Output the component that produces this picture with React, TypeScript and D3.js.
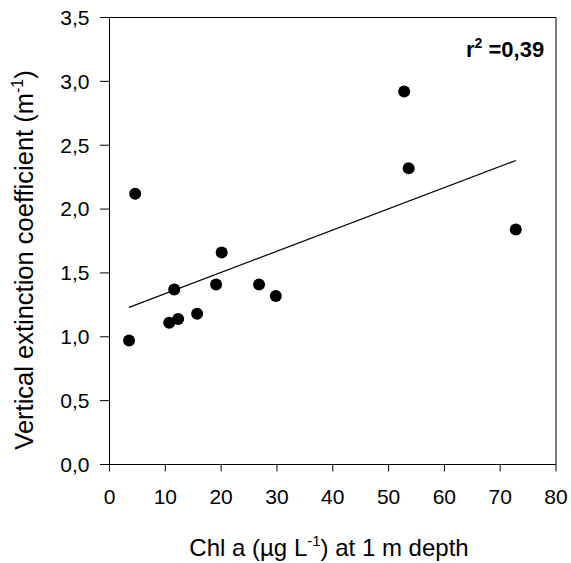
import React from "react";
import * as d3 from "d3";

const chlA = [3.5, 4.6, 10.7, 12.3, 11.6, 15.7, 19.1, 20.1, 26.8, 29.8, 52.8, 53.6, 72.8];
const extinction = [0.97, 2.12, 1.11, 1.14, 1.37, 1.18, 1.41, 1.66, 1.41, 1.32, 2.92, 2.32, 1.84];
const xTicks = [0, 10, 20, 30, 40, 50, 60, 70, 80];
const yTicks = [0, 0.5, 1.0, 1.5, 2.0, 2.5, 3.0, 3.5];
const r2Label = "0,39";

const W = 571, H = 563;
const left = 109.5, right = 556, top = 17.5, bottom = 464.5;

export default function App() {
  const x = d3.scaleLinear().domain([0, 80]).range([left, right]);
  const y = d3.scaleLinear().domain([0, 3.5]).range([bottom, top]);
  const mx = d3.mean(chlA)!;
  const my = d3.mean(extinction)!;
  const sxy = d3.sum(chlA.map((v, i) => (v - mx) * (extinction[i] - my)));
  const sxx = d3.sum(chlA.map((v) => (v - mx) ** 2));
  const slope = sxy / sxx;
  const icpt = my - slope * mx;
  const [x0, x1] = d3.extent(chlA) as [number, number];
  const line = d3.line<number>().x((d) => x(d)).y((d) => y(icpt + slope * d));
  const font = "'Liberation Sans', Arial, sans-serif";
  const fmt = (v: number) => v.toFixed(1).replace(".", ",");
  return (
    <svg width={W} height={H} style={{ position: "absolute", left: 0, top: 0, background: "#fff" }} fontFamily={font}>
      <rect x={0} y={0} width={W} height={H} fill="#fff" />
      <line x1={left} x2={right} y1={top} y2={top} stroke="#000" strokeWidth={1} />
      <line x1={right} x2={right} y1={top} y2={bottom} stroke="#000" strokeWidth={1} />
      <line x1={left} x2={left} y1={top} y2={bottom} stroke="#000" strokeWidth={1} />
      <line x1={left} x2={right} y1={bottom} y2={bottom} stroke="#000" strokeWidth={1} />
      {yTicks.map((t) => (
        <g key={"y" + t}>
          <line x1={left - 9.5} x2={left} y1={y(t)} y2={y(t)} stroke="#000" />
          <text x={89.5} y={y(t)} dy="0.35em" textAnchor="end" fontSize={21} fill="#000">{fmt(t)}</text>
        </g>
      ))}
      {xTicks.map((t) => (
        <g key={"x" + t}>
          <line x1={x(t)} x2={x(t)} y1={bottom} y2={bottom + 7} stroke="#000" />
          <text x={x(t)} y={504} textAnchor="middle" fontSize={21} fill="#000">{t}</text>
        </g>
      ))}
      <path d={line([x0, x1]) || ""} fill="none" stroke="#000" strokeWidth={1.2} />
      {chlA.map((v, i) => (
        <circle key={i} cx={x(v)} cy={y(extinction[i])} r={6} fill="#000" />
      ))}
      <text x={466} y={57} fontSize={22} fontWeight="bold" fill="#000">
        r<tspan dy={-9} fontSize={14}>2</tspan><tspan dy={9}> ={r2Label}</tspan>
      </text>
      <text x={329} y={556} textAnchor="middle" fontSize={24} fill="#000">
        Chl a (µg L<tspan dy={-10} fontSize={15}>-1</tspan><tspan dy={10}>) at 1 m depth</tspan>
      </text>
      <text transform={`translate(33, 260) rotate(-90)`} textAnchor="middle" fontSize={25.5} fill="#000">
        Vertical extinction coefficient (m<tspan dy={-10} fontSize={16}>-1</tspan><tspan dy={10}>)</tspan>
      </text>
    </svg>
  );
}
